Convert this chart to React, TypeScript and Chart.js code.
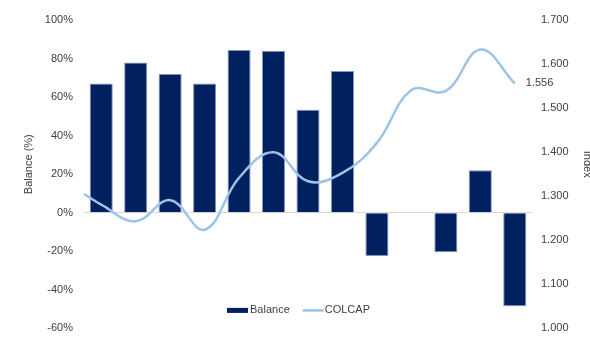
import React, { useEffect, useRef } from "react";
import { Chart, registerables } from "chart.js";

Chart.register(...registerables);

// ---- data ----
const categories = ["P1", "P2", "P3", "P4", "P5", "P6", "P7", "P8", "P9", "P10", "P11", "P12", "P13"];
const balanceValues: (number | null)[] = [67, 78, 72, 67, 84.5, 84, 53.5, 73.5, -22.5, null, -20.5, 22, -48.5];
const colcapStart = 1.305; // value at the left edge of the period
const colcapValues = [1.281, 1.243, 1.291, 1.224, 1.342, 1.4, 1.334, 1.353, 1.421, 1.541, 1.539, 1.633, 1.556];
const leftTicks = { min: -60, max: 100, step: 20 };
const rightTicks = { min: 1.0, max: 1.7, step: 0.1 };

const FONT = "'Liberation Sans', Arial, sans-serif";
const TEXT = "#404040";
const BAR = "#002060";
const LINE = "#9DC3E6";

const overlayPlugin = {
  id: "overlay",
  afterDatasetsDraw(chart: any) {
    const { ctx, chartArea } = chart;
    ctx.save();
    ctx.font = `11px ${FONT}`;
    ctx.fillStyle = TEXT;
    ctx.textBaseline = "middle";

    // data label on last COLCAP point
    const lineMeta = chart.getDatasetMeta(1);
    const pts = lineMeta.data;
    const last = pts[pts.length - 1];
    const lastVal = colcapValues[colcapValues.length - 1];
    ctx.textAlign = "left";
    ctx.fillText(lastVal.toFixed(3), last.x + 11, last.y);

    // legend
    const ly = chartArea.bottom - 18;
    let x = chartArea.left + 143;
    ctx.fillStyle = BAR;
    ctx.fillRect(x, ly - 2.5, 21, 5);
    x += 23;
    ctx.fillStyle = TEXT;
    ctx.fillText(chart.data.datasets[0].label, x, ly);
    x += ctx.measureText(chart.data.datasets[0].label).width + 13;
    ctx.strokeStyle = LINE;
    ctx.lineWidth = 2.5;
    ctx.beginPath();
    ctx.moveTo(x, ly);
    ctx.lineTo(x + 21, ly);
    ctx.stroke();
    x += 22;
    ctx.fillText(chart.data.datasets[1].label, x, ly);

    // axis titles
    const cy = (chartArea.top + chartArea.bottom) / 2 - 10;
    ctx.textAlign = "center";
    ctx.save();
    ctx.translate(28.5, cy);
    ctx.rotate(-Math.PI / 2);
    ctx.fillText("Balance (%)", 0, 0);
    ctx.restore();
    ctx.save();
    ctx.translate(chart.width - 3, cy);
    ctx.rotate(Math.PI / 2);
    ctx.fillText("Index", 0, 0);
    ctx.restore();

    ctx.restore();
  },
};

export default function App() {
  const ref = useRef<HTMLCanvasElement | null>(null);

  useEffect(() => {
    if (!ref.current) return;
    const barData = balanceValues.map((v, i) => ({ x: i, y: v }));
    const lineData = [{ x: -0.5, y: colcapStart }].concat(
      colcapValues.map((v, i) => ({ x: i, y: v }))
    );
    const chart = new Chart(ref.current, {
      type: "bar",
      data: {
        datasets: [
          {
            type: "bar",
            label: "Balance",
            data: barData as any,
            backgroundColor: BAR,
            borderColor: "#8096bd",
            borderWidth: 1,
            categoryPercentage: 1,
            barPercentage: 0.67,
            yAxisID: "y",
            order: 2,
          },
          {
            type: "line",
            label: "COLCAP",
            data: lineData as any,
            borderColor: LINE,
            borderWidth: 2.5,
            pointRadius: 0,
            tension: 0.4,
            fill: false,
            yAxisID: "y2",
            order: 1,
          },
        ],
      },
      options: {
        responsive: false,
        animation: false,
        layout: { padding: { top: 20, bottom: 3, left: 0, right: 0 } },
        plugins: { legend: { display: false }, tooltip: { enabled: false } },
        scales: {
          x: {
            type: "linear",
            display: false,
            offset: false,
            min: -0.5,
            max: categories.length - 0.5,
            grid: { offset: false },
            afterBuildTicks: (s: any) => {
              s.ticks = categories.map((_, i) => ({ value: i }));
            },
          },
          y: {
            position: "left",
            min: leftTicks.min,
            max: leftTicks.max,
            ticks: {
              stepSize: leftTicks.step,
              padding: 11,
              color: TEXT,
              font: { family: FONT, size: 11 },
              callback: (v: any) => `${v}%`,
            },
            grid: {
              drawTicks: false,
              color: (c: any) => (c.tick && c.tick.value === 0 ? "#d9d9d9" : "rgba(0,0,0,0)"),
              lineWidth: 1,
            },
            border: { display: false },
            afterFit: (s: any) => {
              s.width = 84;
            },
          },
          y2: {
            position: "right",
            min: rightTicks.min,
            max: rightTicks.max,
            ticks: {
              stepSize: rightTicks.step,
              padding: 9,
              color: TEXT,
              font: { family: FONT, size: 11 },
              callback: (v: any) => Number(v).toFixed(3),
            },
            grid: { display: false, drawTicks: false },
            border: { display: false },
            afterFit: (s: any) => {
              s.width = 58;
            },
          },
        },
      } as any,
      plugins: [overlayPlugin],
    });
    return () => chart.destroy();
  }, []);

  return (
    <div
      style={{
        position: "absolute",
        left: 0,
        top: 0,
        width: 590,
        height: 338,
        overflow: "hidden",
        background: "#fff",
      }}
    >
      <canvas ref={ref} width={590} height={346} style={{ display: "block" }} />
    </div>
  );
}
